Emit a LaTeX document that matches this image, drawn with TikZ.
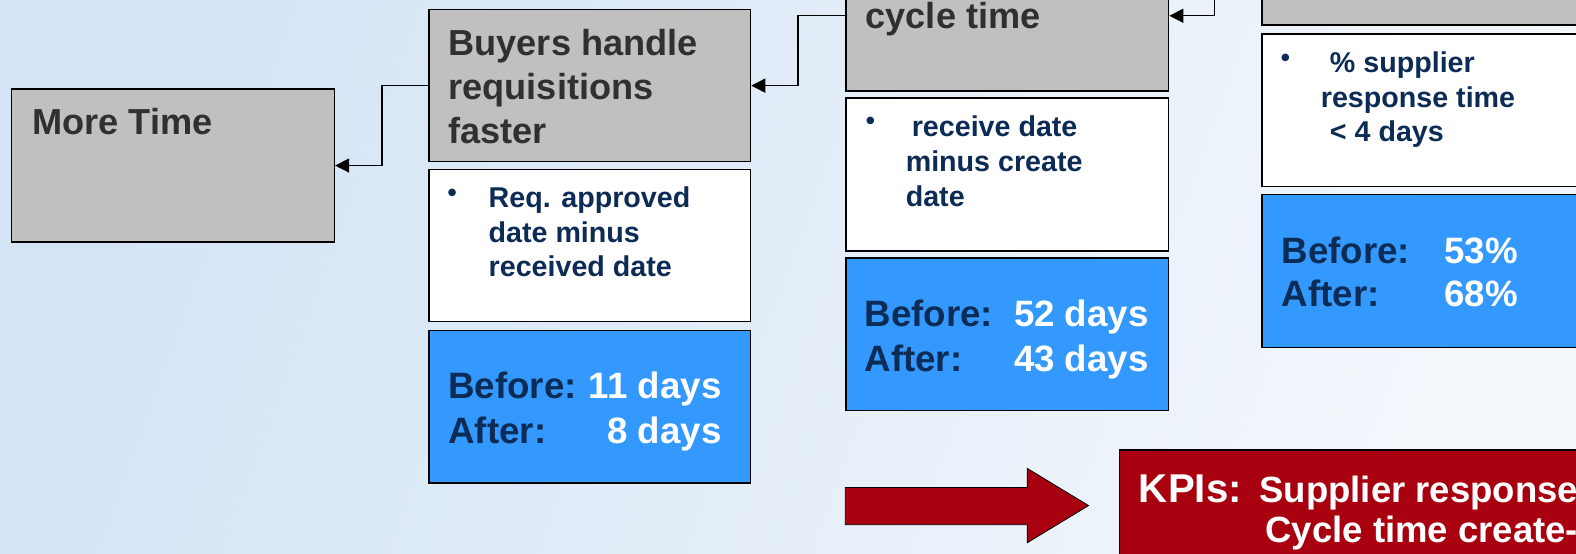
\documentclass[tikz,border=0pt]{standalone}
\usepackage{fontspec}
\setmainfont{Liberation Sans}
\usetikzlibrary{arrows.meta,calc}
\definecolor{boxgray}{HTML}{C0C0C0}
\definecolor{boxblue}{HTML}{3399FF}
\definecolor{navy}{HTML}{0C2B55}
\definecolor{dgray}{HTML}{303030}
\definecolor{kpired}{HTML}{A8000E}
\definecolor{bgA}{HTML}{D3E4F5}
\definecolor{bgB}{HTML}{F4F7FC}
\begin{document}
\begin{tikzpicture}[x=1pt,y=-1pt,
  boxbase/.style={draw=black, line width=1.4pt, anchor=north west, inner sep=0pt},
  graybox/.style={boxbase, fill=boxgray},
  whitebox/.style={boxbase, fill=white},
  bluebox/.style={boxbase, fill=boxblue},
  htext/.style={anchor=base west, inner sep=0pt, text=dgray, font=\bfseries\fontsize{36}{36}\selectfont},
  btext/.style={anchor=base west, inner sep=0pt, text=navy, font=\bfseries\fontsize{28.5}{28.5}\selectfont},
  bul/.style={anchor=center, inner sep=0pt, text=navy, font=\bfseries\fontsize{26}{26}\selectfont},
  lbl/.style={anchor=base west, inner sep=0pt, text=navy, font=\bfseries\fontsize{36.5}{36.5}\selectfont},
  val/.style={inner sep=0pt, text=white, font=\bfseries\fontsize{36.5}{36.5}\selectfont},
  conn/.style={draw=black, line width=1.3pt, -{Triangle[length=14pt,width=14pt]}},
  kpitext/.style={anchor=base west, inner sep=0pt, text=white, font=\bfseries\fontsize{36.3}{36.3}\selectfont}
]
\useasboundingbox (0,0) rectangle (1568,551);
\clip (0,0) rectangle (1568,551);
\shade[top color=bgA, bottom color=bgB, shading angle=70] (-10,-10) rectangle (1578,561);

% More Time
\node[graybox, minimum width=321pt, minimum height=152pt] (more) at (11,88) {};
\node[htext] (moret) at (32,134) {More Time};

% Buyers column
\node[graybox, minimum width=320pt, minimum height=151pt] (buy) at (426,9) {};
\node[htext] (buy1) at (446,55) {Buyers handle};
\node[htext] (buy2) at (446,99) {requisitions};
\node[htext] (buy3) at (446,143) {faster};
\node[whitebox, minimum width=320pt, minimum height=151pt] (req) at (426,168) {};
\node[bul] (reqb) at (450,194) {•};
\node[btext] (req1) at (486,206) {Req. approved};
\node[btext] (req2) at (486,241) {date minus};
\node[btext] (req3) at (486,275) {received date};
\node[bluebox, minimum width=320pt, minimum height=152pt] (bl1) at (426,328) {};
\node[lbl] (bl1a) at (446,396) {Before:};
\node[lbl] (bl1b) at (446,441) {After:};
\node[val, anchor=base east] (bl1c) at (718,396) {11 days};
\node[val, anchor=base east] (bl1d) at (718,441) {8 days};

% Cycle time column
\node[graybox, minimum width=321pt, minimum height=150pt] (cyc) at (841,-60) {};
\node[htext] (cyct) at (861,28) {cycle time};
\node[whitebox, minimum width=321pt, minimum height=152pt] (rcv) at (841,97) {};
\node[bul] (rcvb) at (866,123) {•};
\node[btext] (rcv1) at (907,136) {receive date};
\node[btext] (rcv2) at (901,171) {minus create};
\node[btext] (rcv3) at (901,205) {date};
\node[bluebox, minimum width=321pt, minimum height=152pt] (bl2) at (841,256) {};
\node[lbl] (bl2a) at (860,325) {Before:};
\node[lbl] (bl2b) at (860,370) {After:};
\node[val, anchor=base east] (bl2c) at (1143,325) {52 days};
\node[val, anchor=base east] (bl2d) at (1143,370) {43 days};

% Right column
\node[graybox, minimum width=330pt, minimum height=84pt] (rg) at (1255,-60) {};
\node[whitebox, minimum width=330pt, minimum height=152pt] (sup) at (1255,33) {};
\node[bul] (supb) at (1279,60) {•};
\node[btext] (sup1) at (1323,72) {\% supplier};
\node[btext] (sup2) at (1314,107) {response time};
\node[btext] (sup3) at (1323,141) {< 4 days};
\node[bluebox, minimum width=330pt, minimum height=152pt] (bl3) at (1255,193) {};
\node[lbl] (bl3a) at (1275,262) {Before:};
\node[lbl] (bl3b) at (1275,305) {After:};
\node[val, anchor=base west] (bl3c) at (1437,262) {53\%};
\node[val, anchor=base west] (bl3d) at (1437,305) {68\%};

% connectors
\draw[conn] (buy.west) -- ++(-46,0) |- (more.east);
\draw[conn] (cyc.west) -- ++(-47,0) |- (buy.east);
\draw[conn] (rg.west) -- ++(-47,0) |- (cyc.east);

% red block arrow
\draw[fill=kpired, draw=black, line width=0.8pt]
  (841,485) -- (1022,485) -- (1022,466) -- (1083,503) -- (1022,540) -- (1022,522) -- (841,522) -- cycle;

% KPI box
\node[boxbase, fill=kpired, minimum width=480pt, minimum height=130pt] (kpi) at (1113,447) {};
\node[kpitext, font=\bfseries\fontsize{40}{40}\selectfont] (kpi1) at (1133,500) {KPIs:};
\node[kpitext] (kpi2) at (1253,500) {Supplier response};
\node[kpitext] (kpi3) at (1259,540) {Cycle time create-};
\end{tikzpicture}
\end{document}
